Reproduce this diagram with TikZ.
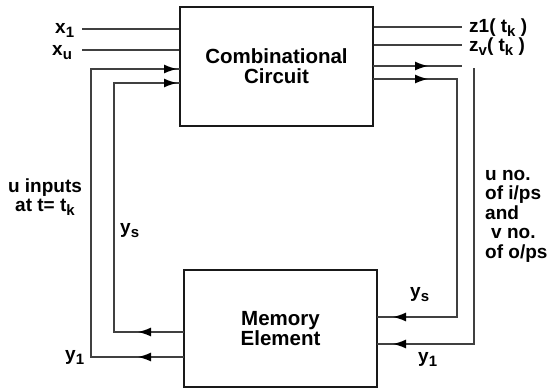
\documentclass[tikz,border=0pt]{standalone}
\usepackage{fontspec}
\setmainfont{Liberation Sans}
\usetikzlibrary{arrows.meta,decorations.markings}
\lineskiplimit=-100pt
\lineskip=0pt
\newcommand\lo[1]{\raisebox{-0.22em}{\fontsize{15}{15}\selectfont #1}}
\tikzset{
  lbl/.style={inner sep=0pt, font=\fontsize{19}{20}\selectfont\bfseries},
  box/.style={draw=black!90, line width=1.4pt, inner sep=0pt, align=center,
    font=\fontsize{20.5}{20}\selectfont\bfseries},
  wire/.style={draw=black!75, line width=1.4pt},
  tipat/.style={postaction={decorate, decoration={markings,
    mark=at position #1 with {\arrow{Latex[length=13pt,width=9pt,black]}}}}},
}
\begin{document}
\begin{tikzpicture}[x=1pt,y=-1pt]
\fill[white] (0,0) rectangle (549,389);
\useasboundingbox (0,0) rectangle (549,389);

% boxes
\node[box, minimum width=193pt, minimum height=119pt] (comb) at (276.5,66.5) {Combinational\\Circuit};
\node[box, minimum width=193pt, minimum height=117pt] (mem) at (280.5,328.5) {Memory\\Element};

% ports
\coordinate (xin1) at (82,29);
\coordinate (xinu) at (82,50);
\coordinate (zo1) at (462,27);
\coordinate (zov) at (462,45);
\coordinate (cL1) at (180,69);
\coordinate (cL2) at (180,83);
\coordinate (cR1) at (373,66);
\coordinate (cR2) at (373,79);
\coordinate (cR1e) at (462,66);
\coordinate (vR1) at (474,68);
\coordinate (mL1) at (184,357);
\coordinate (mL2) at (184,332);
\coordinate (mR1) at (377,344);
\coordinate (mR2) at (377,317);

% labels
\node[lbl, anchor=base west] (lx1) at (55,33) {x\lo{1}};
\node[lbl, anchor=base west] (lxu) at (52,55) {x\lo{u}};
\node[lbl, anchor=base west] (lz1) at (469,32) {z1( t\lo{k} )};
\node[lbl, anchor=base west] (lzv) at (469,51) {z\lo{v}( t\lo{k} )};
\node[lbl, align=center, font=\fontsize{19}{18.5}\selectfont\bfseries] (lu) at (45,197) {u inputs\\at t= t\lo{k}};
\node[lbl, align=left, anchor=north west, font=\fontsize{19}{19.5}\selectfont\bfseries] (luv) at (485,170)
  {u no.\\of i/ps\\and\\\hspace*{6pt}v no.\\of o/ps};
\node[lbl, anchor=base west] (lysl) at (120,233) {y\lo{s}};
\node[lbl, anchor=base west] (lysr) at (410,297) {y\lo{s}};
\node[lbl, anchor=base west] (ly1r) at (418,362) {y\lo{1}};
\node[lbl, anchor=base west] (ly1l) at (65,360) {y\lo{1}};

% inputs and outputs
\draw[wire] (xin1) -- (xin1 -| comb.west);
\draw[wire] (xinu) -- (xinu -| comb.west);
\draw[wire] (zo1 -| comb.east) -- (zo1);
\draw[wire] (zov -| comb.east) -- (zov);

% feedback, left
\draw[wire, tipat=46pt, tipat=-3pt] (mL1) -| (91,69) -- (cL1);
\draw[wire, tipat=46pt, tipat=-3pt] (mL2) -| (114,83) -- (cL2);

% right
\draw[wire, tipat=55pt] (cR1) -- (cR1e);
\draw[wire, tipat=-16pt] (vR1) |- (mR1);
\draw[wire, tipat=55pt, tipat=-16pt] (cR2) -| (457,317) -- (mR2);
\end{tikzpicture}
\end{document}
